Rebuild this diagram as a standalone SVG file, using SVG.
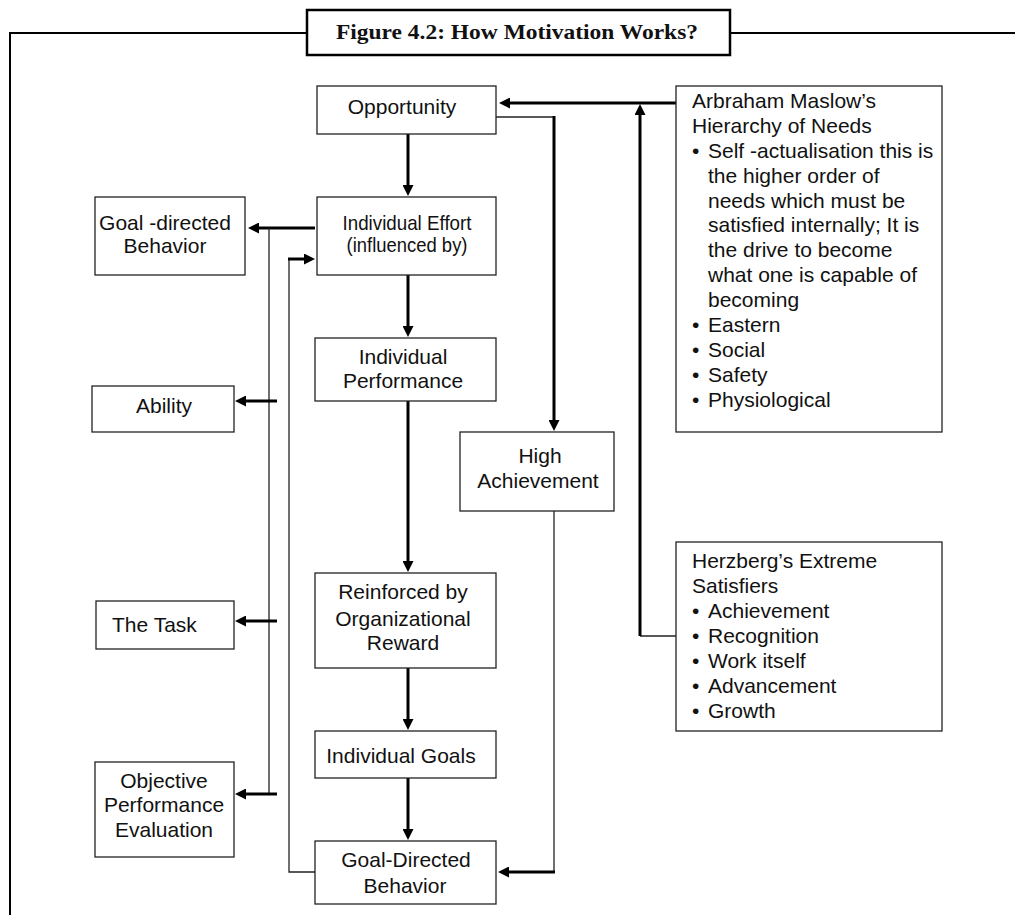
<svg xmlns="http://www.w3.org/2000/svg" width="1015" height="915" viewBox="0 0 1015 915">
  <style>
    .box { fill: #fff; stroke: #222; stroke-width: 1.3; }
    .lbl { font-family: "Liberation Sans", Arial, sans-serif; font-size: 21px; fill: #111; }
    .mid { text-anchor: middle; }
    .thick { fill: none; stroke: #000; stroke-width: 3; }
    .thin { fill: none; stroke: #222; stroke-width: 1.3; }
    .frame { fill: none; stroke: #000; stroke-width: 2; }
    .title { font-family: "Liberation Serif", "Times New Roman", serif; font-size: 21px; font-weight: bold; fill: #111; text-anchor: middle; }
  </style>
  <defs>
    <marker id="head" markerUnits="userSpaceOnUse" markerWidth="12" markerHeight="11" refX="1" refY="5.5" orient="auto">
      <path d="M0,0 L11,5.5 L0,11 z" fill="#000"/>
    </marker>
  </defs>

  <rect width="1015" height="915" fill="#fff"/>

  <!-- outer frame and title -->
  <g id="frame">
    <path class="frame" d="M10,915 V33 H307 M730,33 H1015"/>
    <rect x="307" y="10" width="423" height="45" fill="#fff" stroke="#000" stroke-width="2.5"/>
    <text class="title" x="517" y="39" textLength="362" lengthAdjust="spacingAndGlyphs">Figure 4.2: How Motivation Works?</text>
  </g>

  <!-- connectors -->
  <g id="connectors">
    <!-- Maslow / Herzberg to Opportunity -->
    <path class="thick" d="M676,103 H509" marker-end="url(#head)"/>
    <path class="thin" d="M676,636 H640"/>
    <path class="thick" d="M640,636 V114" marker-end="url(#head)"/>
    <!-- Opportunity to High Achievement -->
    <path class="thin" d="M496,117 H554"/>
    <path class="thick" d="M554,116 V421" marker-end="url(#head)"/>
    <!-- main column -->
    <path class="thick" d="M408,134 V186" marker-end="url(#head)"/>
    <path class="thick" d="M408,275 V327" marker-end="url(#head)"/>
    <path class="thick" d="M408,401 V562" marker-end="url(#head)"/>
    <path class="thick" d="M408,668 V720" marker-end="url(#head)"/>
    <path class="thick" d="M408,778 V830" marker-end="url(#head)"/>
    <!-- influences branching left from Individual Effort -->
    <path class="thick" d="M315,228 H258" marker-end="url(#head)"/>
    <path class="thin" d="M269,228 V794"/>
    <path class="thick" d="M277,401 H245" marker-end="url(#head)"/>
    <path class="thick" d="M277,621 H245" marker-end="url(#head)"/>
    <path class="thick" d="M277,794 H245" marker-end="url(#head)"/>
    <!-- feedback loop from Goal-Directed Behavior -->
    <path class="thin" d="M315,872 H289 V259"/>
    <path class="thick" d="M288,259 H305" marker-end="url(#head)"/>
    <!-- High Achievement to Goal-Directed Behavior -->
    <path class="thin" d="M554,511 V872"/>
    <path class="thick" d="M555,872 H508" marker-end="url(#head)"/>
  </g>

  <g id="opportunity">
    <rect class="box" x="317" y="86" width="179" height="48"/>
    <text class="lbl mid" x="402" y="114">Opportunity</text>
  </g>

  <g id="individual-effort">
    <rect class="box" x="317" y="197" width="179" height="78"/>
    <text class="lbl mid" x="407" y="230" textLength="129" lengthAdjust="spacingAndGlyphs">Individual Effort</text>
    <text class="lbl mid" x="407" y="252" textLength="121" lengthAdjust="spacingAndGlyphs">(influenced by)</text>
  </g>

  <g id="goal-directed-behavior-left">
    <rect class="box" x="95" y="197" width="150" height="78"/>
    <text class="lbl mid" x="165" y="230">Goal -directed</text>
    <text class="lbl mid" x="165" y="253">Behavior</text>
  </g>

  <g id="ability">
    <rect class="box" x="92" y="386" width="142" height="46"/>
    <text class="lbl mid" x="164" y="413">Ability</text>
  </g>

  <g id="the-task">
    <rect class="box" x="96" y="601" width="138" height="48"/>
    <text class="lbl" x="112" y="632">The Task</text>
  </g>

  <g id="objective-evaluation">
    <rect class="box" x="95" y="762" width="139" height="95"/>
    <text class="lbl mid" x="164" y="788">Objective</text>
    <text class="lbl mid" x="164" y="812">Performance</text>
    <text class="lbl mid" x="164" y="837">Evaluation</text>
  </g>

  <g id="individual-performance">
    <rect class="box" x="315" y="338" width="181" height="63"/>
    <text class="lbl mid" x="403" y="364">Individual</text>
    <text class="lbl mid" x="403" y="388">Performance</text>
  </g>

  <g id="high-achievement">
    <rect class="box" x="460" y="432" width="154" height="79"/>
    <text class="lbl mid" x="540" y="463">High</text>
    <text class="lbl mid" x="538" y="488">Achievement</text>
  </g>

  <g id="reinforced">
    <rect class="box" x="315" y="573" width="181" height="95"/>
    <text class="lbl mid" x="403" y="599">Reinforced by</text>
    <text class="lbl mid" x="403" y="626">Organizational</text>
    <text class="lbl mid" x="403" y="650">Reward</text>
  </g>

  <g id="individual-goals">
    <rect class="box" x="315" y="731" width="181" height="47"/>
    <text class="lbl mid" x="401" y="763">Individual Goals</text>
  </g>

  <g id="goal-directed-behavior">
    <rect class="box" x="315" y="841" width="181" height="63"/>
    <text class="lbl mid" x="406" y="867">Goal-Directed</text>
    <text class="lbl mid" x="405" y="893">Behavior</text>
  </g>

  <g id="maslow">
    <rect class="box" x="676" y="86" width="266" height="346"/>
    <text class="lbl">
      <tspan x="692" y="108">Arbraham Maslow’s</tspan>
      <tspan x="692" y="133">Hierarchy of Needs</tspan>
      <tspan x="692" y="158">•</tspan><tspan x="708" y="158">Self -actualisation this is</tspan>
      <tspan x="708" y="183">the higher order of</tspan>
      <tspan x="708" y="208">needs which must be</tspan>
      <tspan x="708" y="232">satisfied internally; It is</tspan>
      <tspan x="708" y="257">the drive to become</tspan>
      <tspan x="708" y="282">what one is capable of</tspan>
      <tspan x="708" y="307">becoming</tspan>
      <tspan x="692" y="332">•</tspan><tspan x="708" y="332">Eastern</tspan>
      <tspan x="692" y="357">•</tspan><tspan x="708" y="357">Social</tspan>
      <tspan x="692" y="382">•</tspan><tspan x="708" y="382">Safety</tspan>
      <tspan x="692" y="407">•</tspan><tspan x="708" y="407">Physiological</tspan>
    </text>
  </g>

  <g id="herzberg">
    <rect class="box" x="676" y="542" width="266" height="189"/>
    <text class="lbl">
      <tspan x="692" y="568">Herzberg’s Extreme</tspan>
      <tspan x="692" y="593">Satisfiers</tspan>
      <tspan x="692" y="618">•</tspan><tspan x="708" y="618">Achievement</tspan>
      <tspan x="692" y="643">•</tspan><tspan x="708" y="643">Recognition</tspan>
      <tspan x="692" y="668">•</tspan><tspan x="708" y="668">Work itself</tspan>
      <tspan x="692" y="693">•</tspan><tspan x="708" y="693">Advancement</tspan>
      <tspan x="692" y="718">•</tspan><tspan x="708" y="718">Growth</tspan>
    </text>
  </g>
</svg>
